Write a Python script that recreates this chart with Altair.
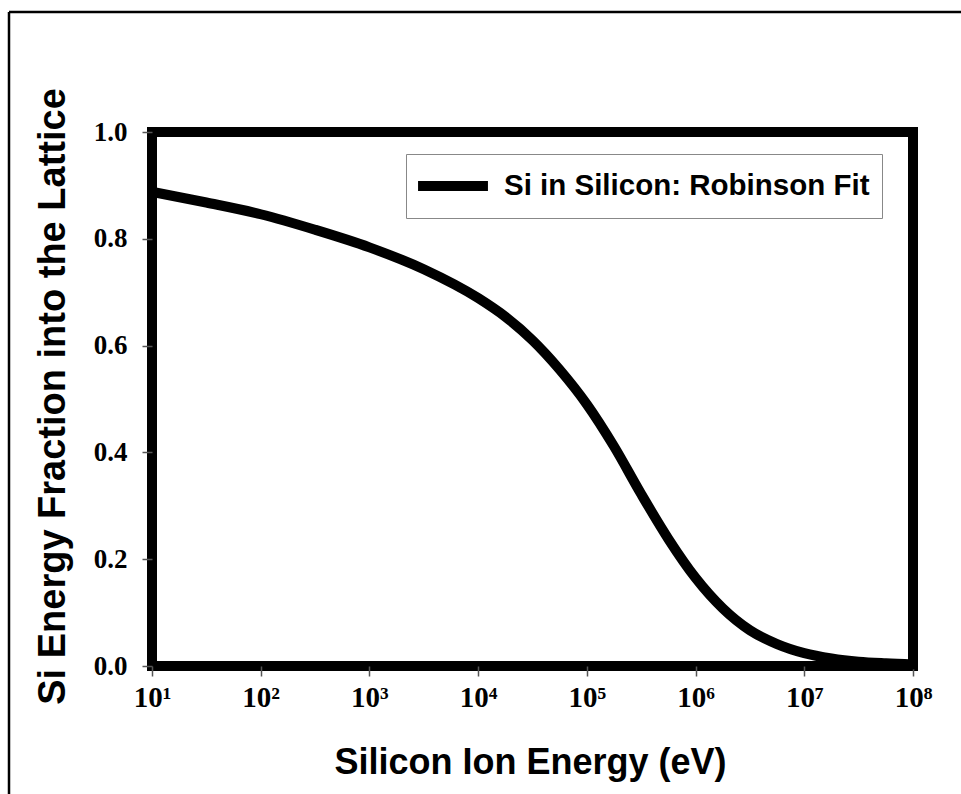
import altair as alt
import pandas as pd

# Robinson-fit curve for Si ions in silicon: energy (eV) vs. fraction into the lattice
energy_ev = [10, 31.6, 100, 316, 1000, 3160, 10000, 17800, 31600, 56200,
             100000, 178000, 316000, 562000, 1000000, 1780000, 3160000,
             5620000, 10000000, 17800000, 31600000, 56200000, 100000000]
fraction = [0.888, 0.868, 0.846, 0.817, 0.784, 0.743, 0.689, 0.654, 0.610, 0.555,
            0.490, 0.411, 0.322, 0.238, 0.165, 0.108, 0.067,
            0.041, 0.024, 0.014, 0.008, 0.005, 0.003]
series_name = "Si in Silicon: Robinson Fit"

x_ticks = [10, 100, 1000, 10000, 100000, 1000000, 10000000, 100000000]
x_tick_labels = ["10¹", "10²", "10³", "10⁴", "10⁵", "10⁶", "10⁷", "10⁸"]
y_ticks = [0.0, 0.2, 0.4, 0.6, 0.8, 1.0]

df = pd.DataFrame({"energy": energy_ev, "fraction": fraction, "series": series_name})

label_expr = "[" + ",".join("'" + s + "'" for s in x_tick_labels) + "][round(log(datum.value)/LN10) - 1]"

SERIF = "Liberation Serif"
SANS = "Liberation Sans"

curve = alt.Chart(df).mark_line(strokeWidth=10, interpolate="monotone", strokeCap="round").encode(
    x=alt.X("energy:Q",
            scale=alt.Scale(type="log", domain=[10, 100000000], nice=False),
            axis=alt.Axis(values=x_ticks, labelExpr=label_expr, grid=False, domain=False,
                          tickSize=10, tickWidth=1.5, tickColor="#555",
                          labelFont=SERIF, labelFontWeight="bold", labelFontSize=29,
                          labelColor="black", labelPadding=7, labelFlush=False,
                          title="Silicon Ion Energy (eV)", titleFont=SANS,
                          titleFontWeight="bold", titleFontSize=36, titleColor="black",
                          titleX=378, titleY=96, titleBaseline="middle")),
    y=alt.Y("fraction:Q",
            scale=alt.Scale(domain=[0, 1], nice=False),
            axis=alt.Axis(values=y_ticks, format=".1f", grid=False, domain=False,
                          tickSize=10, tickWidth=1.5, tickColor="#555",
                          labelFont=SERIF, labelFontWeight="bold", labelFontSize=27,
                          labelColor="black", labelPadding=15,
                          title="Si Energy Fraction into the Lattice", titleFont=SANS,
                          titleFontWeight="bold", titleFontSize=38, titleColor="black",
                          titleX=-99, titleY=264, titleAngle=270,
                          titleBaseline="middle", titleAlign="center")),
    color=alt.Color("series:N", scale=alt.Scale(range=["black"]),
                    legend=alt.Legend(title=None, orient="none", legendX=254, legendY=22,
                                      symbolType="M-2.33,0H2.33", symbolSize=900,
                                      symbolStrokeWidth=10, symbolOffset=15,
                                      labelFont=SANS, labelFontWeight="bold",
                                      labelFontSize=29.5, labelColor="black",
                                      labelOffset=31, padding=12,
                                      strokeColor="#888", fillColor="white",
                                      labelLimit=600)),
)

# Thin page frame along the top and left edges
frame = alt.Data(values=[{"k": 0}])
top_edge = alt.Chart(frame).mark_rule(color="black", strokeWidth=2.5).encode(
    x=alt.value(-143), x2=alt.value(809), y=alt.value(-120))
left_edge = alt.Chart(frame).mark_rule(color="black", strokeWidth=2.5).encode(
    x=alt.value(-143), y=alt.value(-120), y2=alt.value(662))

chart = alt.layer(curve, top_edge, left_edge).properties(
    width=761, height=534,
    autosize=alt.AutoSizeParams(type="none"),
    padding={"left": 152, "top": 132, "right": 48, "bottom": 128},
    background="white",
).configure_view(stroke="black", strokeWidth=10)

chart.save("out.html", embed_options={"renderer": "svg", "actions": False})
